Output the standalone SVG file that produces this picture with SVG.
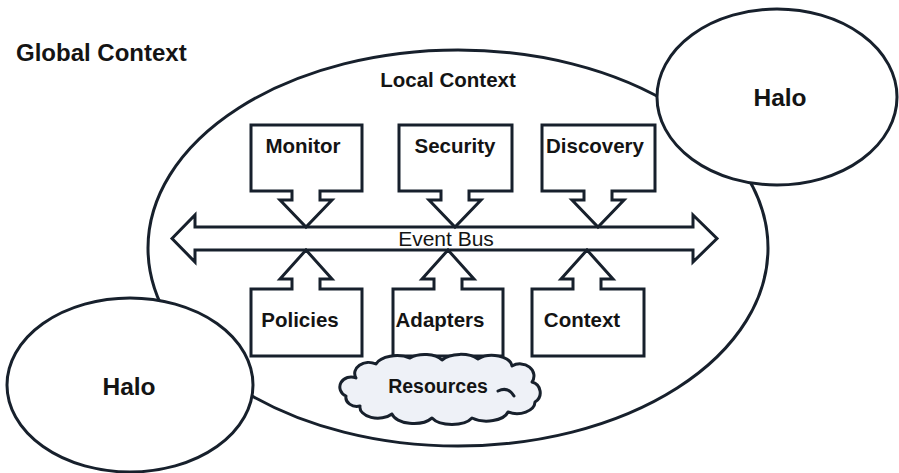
<svg xmlns="http://www.w3.org/2000/svg" width="899" height="473" viewBox="0 0 899 473">
  <style>
    .line { fill: none; stroke: #17202c; stroke-width: 3; stroke-linejoin: miter; }
    .shape { fill: #ffffff; stroke: #17202c; stroke-width: 3; stroke-linejoin: miter; }
    .cloud { fill: #eef1f7; stroke: #17202c; stroke-width: 3; stroke-linejoin: round; }
    .lbl { font-family: "Liberation Sans", Arial, sans-serif; font-weight: bold; fill: #141414; text-anchor: middle; }
    .box { font-size: 20.5px; }
    .halo { font-size: 24.5px; }
    .bus { font-family: "Liberation Sans", Arial, sans-serif; font-size: 21px; fill: #141414; text-anchor: middle; }
  </style>

  <rect x="0" y="0" width="899" height="473" fill="#ffffff"/>

  <!-- Global context title -->
  <text x="16" y="61" font-family="Liberation Sans, Arial, sans-serif" font-weight="bold" font-size="24" fill="#141414">Global Context</text>

  <!-- Local context boundary -->
  <g id="local-context">
    <ellipse class="line" cx="458" cy="248" rx="310" ry="198"/>
    <text class="lbl" x="448" y="87" font-size="20.5">Local Context</text>
  </g>

  <!-- Neighbouring halos -->
  <g id="halo-right">
    <ellipse class="shape" cx="777" cy="97" rx="120" ry="88"/>
    <text class="lbl halo" x="780" y="106">Halo</text>
  </g>
  <g id="halo-left">
    <ellipse class="shape" cx="130" cy="385" rx="123" ry="87"/>
    <text class="lbl halo" x="129" y="395">Halo</text>
  </g>

  <!-- Connectors: the double-headed event bus -->
  <g id="connectors">
    <path class="shape" d="M172 238.5 L195 215 L195 227 L693 227 L693 215 L717 238.5 L693 262 L693 250 L195 250 L195 262 Z"/>
    <text class="bus" x="446" y="246">Event Bus</text>
  </g>

  <!-- Components publishing down to the bus -->
  <g id="monitor">
    <path class="shape" d="M251 125 H362 V191 H320 V200 H332 L306 227 L280 200 H292 V191 H251 Z"/>
    <text class="lbl box" x="303" y="153">Monitor</text>
  </g>
  <g id="security">
    <path class="shape" d="M399 125 H512 V191 H469 V200 H481 L455 227 L429 200 H441 V191 H399 Z"/>
    <text class="lbl box" x="455" y="153">Security</text>
  </g>
  <g id="discovery">
    <path class="shape" d="M542 125 H655 V191 H612 V200 H624 L598 227 L572 200 H584 V191 H542 Z"/>
    <text class="lbl box" x="595" y="153">Discovery</text>
  </g>

  <!-- Components publishing up to the bus -->
  <g id="policies">
    <path class="shape" d="M251 356 H362 V289 H320 V279 H332 L306 250 L280 279 H292 V289 H251 Z"/>
    <text class="lbl box" x="300" y="327">Policies</text>
  </g>
  <g id="adapters">
    <path class="shape" d="M393 356 H503 V289 H462 V279 H474 L448 250 L422 279 H434 V289 H393 Z"/>
    <text class="lbl box" x="440" y="327">Adapters</text>
  </g>
  <g id="context">
    <path class="shape" d="M532 356 H644 V289 H601 V279 H613 L587 250 L561 279 H573 V289 H532 Z"/>
    <text class="lbl box" x="582" y="327">Context</text>
  </g>

  <!-- Resources cloud -->
  <g id="resources">
    <path class="cloud" d="M356 378 A14 11 0 0 1 376 364 A22 12 0 0 1 410 358 A20 11 0 0 1 442 360 A22 12 0 0 1 478 359 A20 12 0 0 1 512 366 A14 12 0 0 1 532 382 A11 11 0 0 1 535 402 A18 12 0 0 1 508 412 A22 12 0 0 1 472 418 A22 11 0 0 1 432 418 A22 12 0 0 1 392 414 A18 11 0 0 1 360 406 A11 9 0 0 1 346 396 A10 9 0 0 1 356 378 Z"/>
    <path class="line" d="M498 391 Q508 386 514 396" stroke-linecap="round"/>
    <text class="lbl" x="438" y="393" font-size="19.5">Resources</text>
  </g>
</svg>
